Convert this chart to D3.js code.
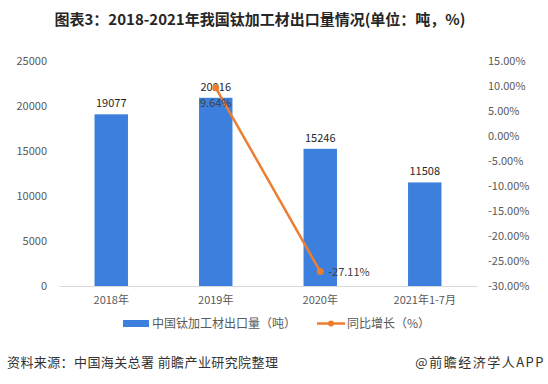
<!DOCTYPE html>
<html>
<head>
<meta charset="utf-8">
<script src="https://cdn.jsdelivr.net/npm/d3@7"></script>
<style>
  body { margin: 0; background: #fff; }
  text { font-family: "Noto Sans CJK SC", "Microsoft YaHei", sans-serif; }
</style>
</head>
<body>
<div id="chart"></div>
<script>
// data
var years = ["2018年", "2019年", "2020年", "2021年1-7月"];
var exportTons = [19077, 20916, 15246, 11508];
var growthYears = ["2019年", "2020年"];
var growthPct = [9.64, -27.11];
var leftTicks = [0, 5000, 10000, 15000, 20000, 25000];
var rightTicks = [15, 10, 5, 0, -5, -10, -15, -20, -25, -30];

var svgWidth = 548;
var svgHeight = 384;

var margin = { top: 61, right: 71, bottom: 98, left: 59 };
var chartWidth = svgWidth - margin.left - margin.right;
var chartHeight = svgHeight - margin.top - margin.bottom;

var svg = d3.select("#chart")
  .append("svg")
  .attr("width", svgWidth)
  .attr("height", svgHeight);

// title
svg.append("text")
  .attr("x", 260)
  .attr("y", 25)
  .attr("text-anchor", "middle")
  .attr("font-size", 15)
  .attr("font-weight", "bold")
  .attr("fill", "#262626")
  .text("图表3：2018-2021年我国钛加工材出口量情况(单位：吨，%)");

var chartGroup = svg.append("g")
  .attr("transform", `translate(${margin.left}, ${margin.top})`);

var xScale = d3.scaleBand()
  .domain(years)
  .range([0, chartWidth])
  .paddingInner(0.68)
  .paddingOuter(0.34);

var yLeft = d3.scaleLinear()
  .domain([0, 25000])
  .range([chartHeight, 0]);

var yRight = d3.scaleLinear()
  .domain([-30, 15])
  .range([chartHeight, 0]);

// left axis
var leftAxis = d3.axisLeft(yLeft).tickValues(leftTicks).tickSize(0).tickPadding(12)
  .tickFormat(d3.format("d"));
var gl = chartGroup.append("g").call(leftAxis);
gl.select(".domain").remove();
gl.selectAll("text").attr("font-size", 11).attr("fill", "#595959")
  .style("font-family", "'Noto Sans CJK SC', sans-serif");

// right axis
var rightAxis = d3.axisRight(yRight).tickValues(rightTicks).tickSize(0).tickPadding(11)
  .tickFormat(d => d.toFixed(2) + "%");
var gr = chartGroup.append("g")
  .attr("transform", `translate(${chartWidth}, 0)`)
  .call(rightAxis);
gr.select(".domain").remove();
gr.selectAll("text").attr("font-size", 11).attr("fill", "#595959")
  .style("font-family", "'Noto Sans CJK SC', sans-serif");

// bottom axis
var bottomAxis = d3.axisBottom(xScale).tickSize(0).tickPadding(10);
var gb = chartGroup.append("g")
  .attr("transform", "translate(0, " + chartHeight + ")")
  .call(bottomAxis);
gb.select(".domain").attr("stroke", "#d9d9d9");
gb.selectAll("text").attr("font-size", 11).attr("fill", "#595959")
  .style("font-family", "'Noto Sans CJK SC', sans-serif");

// bars
chartGroup.append("g")
  .attr("fill", "#3c7fdd")
  .selectAll("rect")
  .data(exportTons)
  .enter().append("rect")
  .attr("x", (d, i) => xScale(years[i]))
  .attr("y", d => yLeft(d))
  .attr("width", xScale.bandwidth())
  .attr("height", d => chartHeight - yLeft(d));

chartGroup.append("g")
  .attr("font-size", 11)
  .attr("fill", "#262626")
  .attr("text-anchor", "middle")
  .selectAll("text")
  .data(exportTons)
  .enter().append("text")
  .attr("x", (d, i) => xScale(years[i]) + xScale.bandwidth() / 2)
  .attr("y", d => yLeft(d) - 7)
  .text(d => d);

// growth line
var line = d3.line()
  .x((d, i) => xScale(growthYears[i]) + xScale.bandwidth() / 2)
  .y(d => yRight(d));

chartGroup.append("path")
  .datum(growthPct)
  .attr("fill", "none")
  .attr("stroke", "#ed7d31")
  .attr("stroke-width", 2.5)
  .attr("d", line);

chartGroup.append("g")
  .attr("fill", "#ed7d31")
  .selectAll("circle")
  .data(growthPct)
  .enter().append("circle")
  .attr("cx", (d, i) => xScale(growthYears[i]) + xScale.bandwidth() / 2)
  .attr("cy", d => yRight(d))
  .attr("r", 3.5);

// growth labels
chartGroup.append("text")
  .attr("x", xScale(growthYears[0]) + xScale.bandwidth() / 2)
  .attr("y", yRight(growthPct[0]) + 19)
  .attr("text-anchor", "middle")
  .attr("font-size", 11)
  .attr("fill", "#404040")
  .text(growthPct[0].toFixed(2) + "%");

chartGroup.append("text")
  .attr("x", xScale(growthYears[1]) + xScale.bandwidth() / 2 + 8)
  .attr("y", yRight(growthPct[1]) + 4)
  .attr("font-size", 11)
  .attr("fill", "#404040")
  .text(growthPct[1].toFixed(2) + "%");

// legend
var legend = svg.append("g").attr("transform", "translate(0, 323)");
legend.append("rect")
  .attr("x", 123).attr("y", -3)
  .attr("width", 26).attr("height", 7)
  .attr("fill", "#3c7fdd");
legend.append("text")
  .attr("x", 152).attr("y", 5)
  .attr("font-size", 12).attr("fill", "#595959")
  .text("中国钛加工材出口量（吨）");
legend.append("line")
  .attr("x1", 317).attr("x2", 345)
  .attr("y1", 0.5).attr("y2", 0.5)
  .attr("stroke", "#ed7d31").attr("stroke-width", 2.5);
legend.append("circle")
  .attr("cx", 331).attr("cy", 0.5).attr("r", 3)
  .attr("fill", "#ed7d31");
legend.append("text")
  .attr("x", 347).attr("y", 5)
  .attr("font-size", 12).attr("fill", "#595959")
  .text("同比增长（%）");

// footer
svg.append("text")
  .attr("x", 7).attr("y", 367)
  .attr("font-size", 13).attr("fill", "#333")
  .attr("letter-spacing", 0.4)
  .text("资料来源：中国海关总署 前瞻产业研究院整理");
svg.append("text")
  .attr("x", 545).attr("y", 367)
  .attr("text-anchor", "end")
  .attr("font-size", 13).attr("fill", "#333")
  .attr("letter-spacing", 1.5)
  .text("@前瞻经济学人APP");
</script>
</body>
</html>
